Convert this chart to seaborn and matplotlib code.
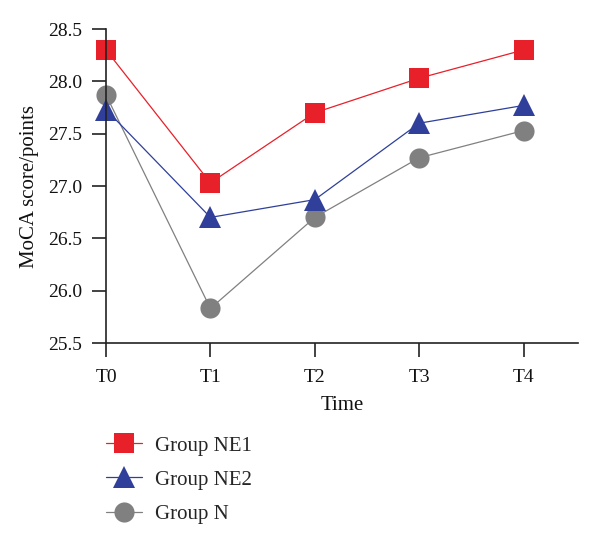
import numpy as np
import pandas as pd
import matplotlib
matplotlib.use("Agg")
import matplotlib.pyplot as plt
import seaborn as sns

# dados
tempos = ["T0", "T1", "T2", "T3", "T4"]
grupos = ["Group NE1", "Group NE2", "Group N"]
ne1 = [28.30, 27.03, 27.70, 28.03, 28.30]
ne2 = [27.73, 26.70, 26.87, 27.60, 27.77]
n = [27.87, 25.83, 26.70, 27.27, 27.53]

df = pd.DataFrame({
    "tempo": list(range(len(tempos))) * 3,
    "score": ne1 + ne2 + n,
    "grupo": [g for g in grupos for _ in tempos],
})

cores = {"Group NE1": "#e8202a", "Group NE2": "#2f3f9a", "Group N": "#808080"}
marcadores = {"Group NE1": "s", "Group NE2": "^", "Group N": "o"}

sns.set_style("ticks")
plt.rcParams["font.family"] = ["Liberation Serif", "DejaVu Serif"]

fig = plt.figure(figsize=(6, 5.42), dpi=100)
ax = fig.add_axes([106 / 600, 1 - 343 / 542, 472 / 600, 314 / 542])

# grupo N desenhado primeiro (fica por baixo)
sns.lineplot(
    data=df, x="tempo", y="score", hue="grupo", style="grupo",
    hue_order=grupos[::-1], style_order=grupos[::-1],
    palette=cores, markers=marcadores, dashes=False,
    markersize=14.5, markeredgewidth=0, linewidth=0.9, ax=ax,
)
for linha in ax.lines:
    linha.set_clip_on(False)
    if linha.get_marker() == "^":
        linha.set_markersize(16)

ax.set_xlim(0, 4.52)
ax.set_ylim(25.5, 28.5)
ax.set_xticks(range(len(tempos)))
ax.set_xticklabels(tempos)
ax.set_yticks(np.arange(25.5, 28.51, 0.5))
ax.set_yticklabels(["%.1f" % v for v in np.arange(25.5, 28.51, 0.5)])
ax.tick_params(axis="both", length=10, width=1.2, color="#222222",
               labelsize=14, labelcolor="#111111", pad=7)
ax.tick_params(axis="x", pad=9)
for s in ["left", "bottom"]:
    ax.spines[s].set_linewidth(1.2)
    ax.spines[s].set_color("#222222")
sns.despine(ax=ax)
ax.set_xlabel("Time", fontsize=15, color="#111111", labelpad=7)
ax.set_ylabel("MoCA score/points", fontsize=15, color="#111111", labelpad=7)

handles, labels = ax.get_legend_handles_labels()
ordem = [labels.index(g) for g in grupos]
for h in handles:
    if h.get_marker() == "^":
        h.set_markersize(16)
ax.legend(
    [handles[i] for i in ordem], [labels[i] for i in ordem],
    loc="upper left", bbox_to_anchor=(106 / 600, 1 - 436 / 542),
    bbox_transform=fig.transFigure, frameon=False, fontsize=15,
    borderpad=0, borderaxespad=0, handlelength=1.75, labelspacing=0.7,
    handletextpad=0.6,
)

fig.savefig("out.png", dpi=100)
